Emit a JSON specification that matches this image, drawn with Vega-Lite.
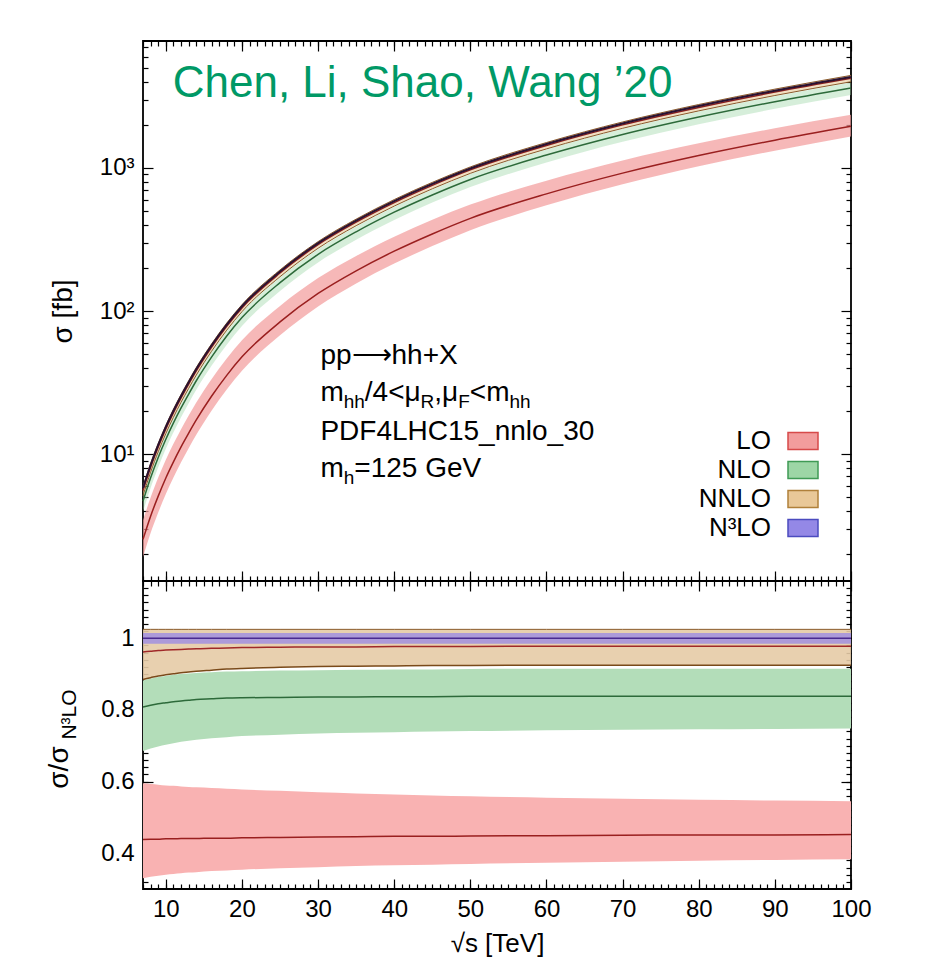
{
  "$schema": "https://vega.github.io/schema/vega-lite/v6.json",
  "background": "white",
  "padding": {"left": 44, "top": 39, "right": 5, "bottom": 5},
  "config": {
    "font": "Liberation Sans",
    "view": {"stroke": "black", "strokeWidth": 1.8},
    "axis": {"domain": false, "grid": false, "tickColor": "black", "tickWidth": 1.2, "labelColor": "black", "titleColor": "black", "labelFont": "Liberation Sans", "titleFont": "Liberation Sans", "labelFontSize": 24, "titleFontSize": 28, "titleFontWeight": "normal", "zindex": 1, "labelFlush": false, "labelOverlap": false, "labelBound": false},
    "text": {"font": "Liberation Sans", "color": "black"}
  },
  "datasets": {
    "xs": [
      {"s":7,"order":"LO","lo":1.91,"c":2.54,"hi":3.45,"rlo":0.33,"rc":0.438,"rhi":0.595},
      {"s":7,"order":"NLO","lo":3.97,"c":4.69,"hi":5.12,"rlo":0.685,"rc":0.808,"rhi":0.882},
      {"s":7,"order":"NNLO","lo":5.13,"c":5.58,"hi":5.95,"rlo":0.885,"rc":0.962,"rhi":1.025},
      {"s":7,"order":"N³LO","lo":5.71,"c":5.8,"hi":5.89,"rlo":0.985,"rc":1,"rhi":1.015},
      {"s":8,"order":"LO","lo":2.81,"c":3.69,"hi":4.98,"rlo":0.334,"rc":0.439,"rhi":0.593},
      {"s":8,"order":"NLO","lo":5.81,"c":6.83,"hi":7.46,"rlo":0.692,"rc":0.813,"rhi":0.888},
      {"s":8,"order":"NNLO","lo":7.48,"c":8.10,"hi":8.61,"rlo":0.89,"rc":0.964,"rhi":1.025},
      {"s":8,"order":"N³LO","lo":8.27,"c":8.4,"hi":8.53,"rlo":0.985,"rc":1,"rhi":1.015},
      {"s":9,"order":"LO","lo":3.91,"c":5.09,"hi":6.86,"rlo":0.337,"rc":0.439,"rhi":0.591},
      {"s":9,"order":"NLO","lo":8.10,"c":9.48,"hi":10.35,"rlo":0.698,"rc":0.817,"rhi":0.892},
      {"s":9,"order":"NNLO","lo":10.38,"c":11.21,"hi":11.89,"rlo":0.895,"rc":0.966,"rhi":1.025},
      {"s":9,"order":"N³LO","lo":11.43,"c":11.6,"hi":11.77,"rlo":0.985,"rc":1,"rhi":1.015},
      {"s":10,"order":"LO","lo":5.27,"c":6.82,"hi":9.13,"rlo":0.34,"rc":0.44,"rhi":0.589},
      {"s":10,"order":"NLO","lo":10.90,"c":12.71,"hi":13.87,"rlo":0.703,"rc":0.82,"rhi":0.895},
      {"s":10,"order":"NNLO","lo":13.92,"c":14.99,"hi":15.89,"rlo":0.898,"rc":0.967,"rhi":1.025},
      {"s":10,"order":"N³LO","lo":15.27,"c":15.5,"hi":15.73,"rlo":0.985,"rc":1,"rhi":1.015},
      {"s":11,"order":"LO","lo":6.87,"c":8.84,"hi":11.82,"rlo":0.342,"rc":0.44,"rhi":0.588},
      {"s":11,"order":"NLO","lo":14.21,"c":16.54,"hi":18.05,"rlo":0.707,"rc":0.823,"rhi":0.898},
      {"s":11,"order":"NNLO","lo":18.11,"c":19.46,"hi":20.60,"rlo":0.901,"rc":0.968,"rhi":1.025},
      {"s":11,"order":"N³LO","lo":19.80,"c":20.1,"hi":20.40,"rlo":0.985,"rc":1,"rhi":1.015},
      {"s":12,"order":"LO","lo":8.77,"c":11.25,"hi":14.94,"rlo":0.344,"rc":0.441,"rhi":0.586},
      {"s":12,"order":"NLO","lo":18.13,"c":21.04,"hi":22.95,"rlo":0.711,"rc":0.825,"rhi":0.90},
      {"s":12,"order":"NNLO","lo":23.05,"c":24.71,"hi":26.14,"rlo":0.904,"rc":0.969,"rhi":1.025},
      {"s":12,"order":"N³LO","lo":25.12,"c":25.5,"hi":25.88,"rlo":0.985,"rc":1,"rhi":1.015},
      {"s":13,"order":"LO","lo":11.00,"c":14.02,"hi":18.60,"rlo":0.346,"rc":0.441,"rhi":0.585},
      {"s":13,"order":"NLO","lo":22.71,"c":26.30,"hi":28.68,"rlo":0.714,"rc":0.827,"rhi":0.902},
      {"s":13,"order":"NNLO","lo":28.81,"c":30.85,"hi":32.60,"rlo":0.906,"rc":0.970,"rhi":1.025},
      {"s":13,"order":"N³LO","lo":31.32,"c":31.8,"hi":32.28,"rlo":0.985,"rc":1,"rhi":1.015},
      {"s":14,"order":"LO","lo":13.64,"c":17.33,"hi":22.95,"rlo":0.347,"rc":0.441,"rhi":0.584},
      {"s":14,"order":"NLO","lo":28.18,"c":32.58,"hi":35.49,"rlo":0.717,"rc":0.829,"rhi":0.903},
      {"s":14,"order":"NNLO","lo":35.68,"c":38.16,"hi":40.28,"rlo":0.908,"rc":0.971,"rhi":1.025},
      {"s":14,"order":"N³LO","lo":38.71,"c":39.3,"hi":39.89,"rlo":0.985,"rc":1,"rhi":1.015},
      {"s":16,"order":"LO","lo":20.09,"c":25.37,"hi":33.41,"rlo":0.35,"rc":0.442,"rhi":0.582},
      {"s":16,"order":"NLO","lo":41.39,"c":47.70,"hi":51.95,"rlo":0.721,"rc":0.831,"rhi":0.905},
      {"s":16,"order":"NNLO","lo":52.29,"c":55.79,"hi":58.84,"rlo":0.911,"rc":0.972,"rhi":1.025},
      {"s":16,"order":"N³LO","lo":56.54,"c":57.4,"hi":58.26,"rlo":0.985,"rc":1,"rhi":1.015},
      {"s":18,"order":"LO","lo":28.30,"c":35.54,"hi":46.63,"rlo":0.352,"rc":0.442,"rhi":0.58},
      {"s":18,"order":"NLO","lo":58.21,"c":66.97,"hi":72.92,"rlo":0.724,"rc":0.833,"rhi":0.907},
      {"s":18,"order":"NNLO","lo":73.49,"c":78.23,"hi":82.41,"rlo":0.914,"rc":0.973,"rhi":1.025},
      {"s":18,"order":"N³LO","lo":79.19,"c":80.4,"hi":81.61,"rlo":0.985,"rc":1,"rhi":1.015},
      {"s":20,"order":"LO","lo":38.23,"c":47.84,"hi":62.42,"rlo":0.354,"rc":0.443,"rhi":0.578},
      {"s":20,"order":"NLO","lo":78.52,"c":90.07,"hi":98.06,"rlo":0.727,"rc":0.834,"rhi":0.908},
      {"s":20,"order":"NNLO","lo":98.93,"c":105.2,"hi":110.7,"rlo":0.916,"rc":0.974,"rhi":1.025},
      {"s":20,"order":"N³LO","lo":106.4,"c":108,"hi":109.6,"rlo":0.985,"rc":1,"rhi":1.015},
      {"s":25,"order":"LO","lo":67.66,"c":83.92,"hi":108.5,"rlo":0.358,"rc":0.444,"rhi":0.574},
      {"s":25,"order":"NLO","lo":138.2,"c":157.8,"hi":172.0,"rlo":0.731,"rc":0.835,"rhi":0.91},
      {"s":25,"order":"NNLO","lo":173.7,"c":184.3,"hi":193.7,"rlo":0.919,"rc":0.975,"rhi":1.025},
      {"s":25,"order":"N³LO","lo":186.2,"c":189,"hi":191.8,"rlo":0.985,"rc":1,"rhi":1.015},
      {"s":30,"order":"LO","lo":107.6,"c":132.6,"hi":169.9,"rlo":0.361,"rc":0.445,"rhi":0.57},
      {"s":30,"order":"NLO","lo":218.7,"c":249.1,"hi":271.5,"rlo":0.734,"rc":0.836,"rhi":0.911},
      {"s":30,"order":"NNLO","lo":274.5,"c":290.8,"hi":305.5,"rlo":0.921,"rc":0.976,"rhi":1.025},
      {"s":30,"order":"N³LO","lo":293.5,"c":298,"hi":302.5,"rlo":0.985,"rc":1,"rhi":1.015},
      {"s":35,"order":"LO","lo":155.8,"c":190.9,"hi":242.7,"rlo":0.364,"rc":0.446,"rhi":0.567},
      {"s":35,"order":"NLO","lo":315.0,"c":357.8,"hi":390.3,"rlo":0.736,"rc":0.836,"rhi":0.912},
      {"s":35,"order":"NNLO","lo":394.6,"c":417.7,"hi":438.7,"rlo":0.922,"rc":0.976,"rhi":1.025},
      {"s":35,"order":"N³LO","lo":421.6,"c":428,"hi":434.4,"rlo":0.985,"rc":1,"rhi":1.015},
      {"s":40,"order":"LO","lo":214.5,"c":261.9,"hi":330.5,"rlo":0.366,"rc":0.447,"rhi":0.564},
      {"s":40,"order":"NLO","lo":432.5,"c":490.5,"hi":535.0,"rlo":0.738,"rc":0.837,"rhi":0.913},
      {"s":40,"order":"NNLO","lo":540.9,"c":572.5,"hi":600.7,"rlo":0.923,"rc":0.977,"rhi":1.025},
      {"s":40,"order":"N³LO","lo":577.2,"c":586,"hi":594.8,"rlo":0.985,"rc":1,"rhi":1.015},
      {"s":45,"order":"LO","lo":284.5,"c":345.5,"hi":433.7,"rlo":0.368,"rc":0.447,"rhi":0.561},
      {"s":45,"order":"NLO","lo":572.0,"c":647.0,"hi":705.7,"rlo":0.74,"rc":0.837,"rhi":0.913},
      {"s":45,"order":"NNLO","lo":714.3,"c":755.2,"hi":792.3,"rlo":0.924,"rc":0.977,"rhi":1.025},
      {"s":45,"order":"N³LO","lo":761.4,"c":773,"hi":784.6,"rlo":0.985,"rc":1,"rhi":1.015},
      {"s":50,"order":"LO","lo":366.7,"c":444.0,"hi":554.0,"rlo":0.37,"rc":0.448,"rhi":0.559},
      {"s":50,"order":"NLO","lo":734.3,"c":830.5,"hi":905.8,"rlo":0.741,"rc":0.838,"rhi":0.914},
      {"s":50,"order":"NNLO","lo":915.7,"c":968.2,"hi":1015.8,"rlo":0.924,"rc":0.977,"rhi":1.025},
      {"s":50,"order":"N³LO","lo":976.1,"c":991,"hi":1005.9,"rlo":0.985,"rc":1,"rhi":1.015},
      {"s":60,"order":"LO","lo":547.2,"c":658.7,"hi":814.2,"rlo":0.373,"rc":0.449,"rhi":0.555},
      {"s":60,"order":"NLO","lo":1090,"c":1229,"hi":1342,"rlo":0.743,"rc":0.838,"rhi":0.915},
      {"s":60,"order":"NNLO","lo":1357,"c":1435,"hi":1504,"rlo":0.925,"rc":0.978,"rhi":1.025},
      {"s":60,"order":"N³LO","lo":1445,"c":1467,"hi":1489,"rlo":0.985,"rc":1,"rhi":1.015},
      {"s":70,"order":"LO","lo":768.2,"c":919.4,"hi":1128,"rlo":0.376,"rc":0.45,"rhi":0.552},
      {"s":70,"order":"NLO","lo":1522,"c":1712,"hi":1869,"rlo":0.745,"rc":0.838,"rhi":0.915},
      {"s":70,"order":"NNLO","lo":1890,"c":1998,"hi":2094,"rlo":0.925,"rc":0.978,"rhi":1.025},
      {"s":70,"order":"N³LO","lo":2012,"c":2043,"hi":2074,"rlo":0.985,"rc":1,"rhi":1.015},
      {"s":80,"order":"LO","lo":1025,"c":1220,"hi":1485,"rlo":0.379,"rc":0.451,"rhi":0.549},
      {"s":80,"order":"NLO","lo":2018,"c":2267,"hi":2475,"rlo":0.746,"rc":0.838,"rhi":0.915},
      {"s":80,"order":"NNLO","lo":2502,"c":2645,"hi":2773,"rlo":0.925,"rc":0.978,"rhi":1.025},
      {"s":80,"order":"N³LO","lo":2664,"c":2705,"hi":2746,"rlo":0.985,"rc":1,"rhi":1.015},
      {"s":90,"order":"LO","lo":1319,"c":1562,"hi":1894,"rlo":0.381,"rc":0.451,"rhi":0.547},
      {"s":90,"order":"NLO","lo":2587,"c":2902,"hi":3169,"rlo":0.747,"rc":0.838,"rhi":0.915},
      {"s":90,"order":"NNLO","lo":3203,"c":3387,"hi":3550,"rlo":0.925,"rc":0.978,"rhi":1.025},
      {"s":90,"order":"N³LO","lo":3411,"c":3463,"hi":3515,"rlo":0.985,"rc":1,"rhi":1.015},
      {"s":100,"order":"LO","lo":1655,"c":1953,"hi":2355,"rlo":0.383,"rc":0.452,"rhi":0.545},
      {"s":100,"order":"NLO","lo":3232,"c":3621,"hi":3954,"rlo":0.748,"rc":0.838,"rhi":0.915},
      {"s":100,"order":"NNLO","lo":3997,"c":4226,"hi":4429,"rlo":0.925,"rc":0.978,"rhi":1.025},
      {"s":100,"order":"N³LO","lo":4256,"c":4321,"hi":4386,"rlo":0.985,"rc":1,"rhi":1.015}
    ]
  },
  "spacing": 0,
  "bounds": "flush",
  "resolve": {"scale": {"fill": "independent"}, "legend": {"fill": "independent"}},
  "vconcat": [
    {
      "width": 708,
      "height": 540,
      "data": {"name": "xs"},
      "resolve": {"axis": {"x": "independent", "y": "independent"}},
      "layer": [
        {
          "transform": [{"filter": "datum.order === 'LO'"}],
          "mark": {"type": "area", "fillOpacity": 0.72, "interpolate": "monotone"},
          "encoding": {
            "x": {"field": "s", "type": "quantitative", "scale": {"domain": [7, 100], "nice": false, "zero": false},
              "axis": {"orient": "bottom", "values": [10,20,30,40,50,60,70,80,90,100], "labels": false, "tickSize": -10, "title": null}},
            "y": {"field": "lo", "type": "quantitative", "scale": {"type": "log", "domain": [1.3, 7700], "nice": false},
              "axis": {"orient": "left", "values": [10, 100, 1000], "tickSize": -10, "labelPadding": 19,
                "labelExpr": "datum.value == 10 ? '10¹' : datum.value == 100 ? '10²' : '10³'",
                "title": "σ  [fb]", "titleX": -80, "titleY": 270, "titleAngle": -90, "titleBaseline": "middle", "titleAlign": "center"}},
            "y2": {"field": "hi"},
            "fill": {"field": "order", "type": "nominal",
              "scale": {"domain": ["LO", "NLO", "NNLO", "N³LO"], "range": ["#f29d9d", "#9dd6a6", "#e9c898", "#9488e6"]},
              "legend": {"orient": "bottom-right", "offset": 30, "title": " ", "titleOrient": "bottom", "titleFontSize": 8, "titlePadding": 2,
                "labelFontSize": 26, "labelFont": "Liberation Sans", "labelColor": "black", "labelAlign": "right", "labelOffset": -48, "labelLimit": 300,
                "symbolType": "M-1,-0.57H1V0.57H-1Z", "symbolSize": 900, "rowPadding": 0, "padding": 0,
                "encode": {"symbols": {"update": {
                  "fill": {"signal": "datum.value === 'LO' ? '#f4a4a4' : datum.value === 'NLO' ? '#a6dbae' : datum.value === 'NNLO' ? '#ecd0a8' : '#9a96ee'"},
                  "stroke": {"signal": "datum.value === 'LO' ? '#d64a4a' : datum.value === 'NLO' ? '#3f9a55' : datum.value === 'NNLO' ? '#b0803a' : '#4b4bbf'"},
                  "strokeWidth": {"value": 1.5}, "fillOpacity": {"value": 1}, "opacity": {"value": 1}}}}}}
          }
        },
        {
          "transform": [{"filter": "datum.order === 'NLO'"}],
          "mark": {"type": "area", "fillOpacity": 0.42, "interpolate": "monotone"},
          "encoding": {
            "x": {"field": "s", "type": "quantitative", "axis": {"orient": "top", "values": [10,20,30,40,50,60,70,80,90,100], "labels": false, "tickSize": -10, "title": null}},
            "y": {"field": "lo", "type": "quantitative", "axis": {"orient": "right", "values": [10, 100, 1000], "labels": false, "tickSize": -10, "title": null}},
            "y2": {"field": "hi"},
            "fill": {"field": "order", "type": "nominal"}
          }
        },
        {
          "transform": [{"filter": "datum.order === 'NNLO'"}],
          "mark": {"type": "area", "fillOpacity": 0.6, "interpolate": "monotone"},
          "encoding": {
            "x": {"field": "s", "type": "quantitative", "axis": {"orient": "bottom", "values": [7,8,9,10,11,12,13,14,15,16,17,18,19,20,21,22,23,24,25,26,27,28,29,30,31,32,33,34,35,36,37,38,39,40,41,42,43,44,45,46,47,48,49,50,51,52,53,54,55,56,57,58,59,60,61,62,63,64,65,66,67,68,69,70,71,72,73,74,75,76,77,78,79,80,81,82,83,84,85,86,87,88,89,90,91,92,93,94,95,96,97,98,99], "labels": false, "tickSize": -5, "title": null}},
            "y": {"field": "lo", "type": "quantitative", "axis": {"orient": "left", "values": [2,3,4,5,6,7,8,9,20,30,40,50,60,70,80,90,200,300,400,500,600,700,800,900,2000,3000,4000,5000,6000,7000], "labels": false, "tickSize": -5, "title": null}},
            "y2": {"field": "hi"},
            "fill": {"field": "order", "type": "nominal"}
          }
        },
        {
          "transform": [{"filter": "datum.order === 'N³LO'"}],
          "mark": {"type": "area", "fillOpacity": 0.55, "interpolate": "monotone"},
          "encoding": {
            "x": {"field": "s", "type": "quantitative", "axis": {"orient": "top", "values": [7,8,9,10,11,12,13,14,15,16,17,18,19,20,21,22,23,24,25,26,27,28,29,30,31,32,33,34,35,36,37,38,39,40,41,42,43,44,45,46,47,48,49,50,51,52,53,54,55,56,57,58,59,60,61,62,63,64,65,66,67,68,69,70,71,72,73,74,75,76,77,78,79,80,81,82,83,84,85,86,87,88,89,90,91,92,93,94,95,96,97,98,99], "labels": false, "tickSize": -5, "title": null}},
            "y": {"field": "lo", "type": "quantitative", "axis": {"orient": "right", "values": [2,3,4,5,6,7,8,9,20,30,40,50,60,70,80,90,200,300,400,500,600,700,800,900,2000,3000,4000,5000,6000,7000], "labels": false, "tickSize": -5, "title": null}},
            "y2": {"field": "hi"},
            "fill": {"field": "order", "type": "nominal"}
          }
        },
        {
          "transform": [{"filter": "datum.order === 'LO'"}],
          "mark": {"type": "line", "color": "#9a1f1f", "strokeWidth": 1.5, "interpolate": "monotone"},
          "encoding": {"x": {"field": "s", "type": "quantitative", "axis": null}, "y": {"field": "c", "type": "quantitative", "axis": null}}
        },
        {
          "transform": [{"filter": "datum.order === 'NLO'"}],
          "mark": {"type": "line", "color": "#2d6a3a", "strokeWidth": 1.5, "interpolate": "monotone"},
          "encoding": {"x": {"field": "s", "type": "quantitative", "axis": null}, "y": {"field": "c", "type": "quantitative", "axis": null}}
        },
        {
          "transform": [{"filter": "datum.order === 'NNLO'"}],
          "mark": {"type": "line", "color": "#8a5a2a", "strokeWidth": 1, "interpolate": "monotone"},
          "encoding": {"x": {"field": "s", "type": "quantitative", "axis": null}, "y": {"field": "lo", "type": "quantitative", "axis": null}}
        },
        {
          "transform": [{"filter": "datum.order === 'NNLO'"}],
          "mark": {"type": "line", "color": "#8a5a2a", "strokeWidth": 1, "interpolate": "monotone"},
          "encoding": {"x": {"field": "s", "type": "quantitative", "axis": null}, "y": {"field": "hi", "type": "quantitative", "axis": null}}
        },
        {
          "transform": [{"filter": "datum.order === 'NNLO'"}],
          "mark": {"type": "line", "color": "#8a1f1f", "strokeWidth": 1.5, "interpolate": "monotone"},
          "encoding": {"x": {"field": "s", "type": "quantitative", "axis": null}, "y": {"field": "c", "type": "quantitative", "axis": null}}
        },
        {
          "transform": [{"filter": "datum.order === 'N³LO'"}],
          "mark": {"type": "line", "color": "#2a1230", "strokeWidth": 2, "interpolate": "monotone"},
          "encoding": {"x": {"field": "s", "type": "quantitative", "axis": null}, "y": {"field": "c", "type": "quantitative", "axis": null}}
        },
        {
          "data": {"values": [{}]},
          "mark": {"type": "text", "text": "Chen, Li, Shao, Wang ’20", "align": "left", "baseline": "alphabetic", "fontSize": 44, "color": "#009966"},
          "encoding": {"x": {"datum": 10.9, "type": "quantitative", "axis": null}, "y": {"datum": 3130, "type": "quantitative", "axis": null}}
        },
        {
          "data": {"values": [{}]},
          "mark": {"type": "text", "text": "pp⟶hh+X", "align": "left", "baseline": "alphabetic", "fontSize": 28},
          "encoding": {"x": {"datum": 30.3, "type": "quantitative", "axis": null}, "y": {"datum": 42.7, "type": "quantitative", "axis": null}}
        },
        {
          "data": {"values": [{}]},
          "encoding": {"x": {"datum": 30.3, "type": "quantitative", "axis": null}, "y": {"datum": 23.5, "type": "quantitative", "axis": null}},
          "layer": [
            {"mark": {"type": "text", "text": "m", "align": "left", "baseline": "alphabetic", "fontSize": 28}},
            {"mark": {"type": "text", "text": "hh", "align": "left", "baseline": "alphabetic", "fontSize": 19, "dx": 23.3, "dy": 7}},
            {"mark": {"type": "text", "text": "/4<μ", "align": "left", "baseline": "alphabetic", "fontSize": 28, "dx": 44.4}},
            {"mark": {"type": "text", "text": "R", "align": "left", "baseline": "alphabetic", "fontSize": 19, "dx": 100.2, "dy": 7}},
            {"mark": {"type": "text", "text": ",μ", "align": "left", "baseline": "alphabetic", "fontSize": 28, "dx": 113.9}},
            {"mark": {"type": "text", "text": "F", "align": "left", "baseline": "alphabetic", "fontSize": 19, "dx": 137.8, "dy": 7}},
            {"mark": {"type": "text", "text": "<m", "align": "left", "baseline": "alphabetic", "fontSize": 28, "dx": 149.4}},
            {"mark": {"type": "text", "text": "hh", "align": "left", "baseline": "alphabetic", "fontSize": 19, "dx": 189.1, "dy": 7}}
          ]
        },
        {
          "data": {"values": [{}]},
          "mark": {"type": "text", "text": "PDF4LHC15_nnlo_30", "align": "left", "baseline": "alphabetic", "fontSize": 28},
          "encoding": {"x": {"datum": 30.3, "type": "quantitative", "axis": null}, "y": {"datum": 12.55, "type": "quantitative", "axis": null}}
        },
        {
          "data": {"values": [{}]},
          "encoding": {"x": {"datum": 30.3, "type": "quantitative", "axis": null}, "y": {"datum": 6.93, "type": "quantitative", "axis": null}},
          "layer": [
            {"mark": {"type": "text", "text": "m", "align": "left", "baseline": "alphabetic", "fontSize": 28}},
            {"mark": {"type": "text", "text": "h", "align": "left", "baseline": "alphabetic", "fontSize": 19, "dx": 23.3, "dy": 7}},
            {"mark": {"type": "text", "text": "=125 GeV", "align": "left", "baseline": "alphabetic", "fontSize": 28, "dx": 33.9}}
          ]
        }
      ]
    },
    {
      "width": 708,
      "height": 308,
      "data": {"name": "xs"},
      "resolve": {"axis": {"x": "independent", "y": "independent"}},
      "layer": [
        {
          "transform": [{"filter": "datum.order === 'LO'"}],
          "mark": {"type": "area", "fill": "#f9b2b2", "interpolate": "monotone"},
          "encoding": {
            "x": {"field": "s", "type": "quantitative", "scale": {"domain": [7, 100], "nice": false, "zero": false},
              "axis": {"orient": "bottom", "values": [10,20,30,40,50,60,70,80,90,100], "tickSize": -10, "labelPadding": 18, "format": "d",
                "title": "√s [TeV]", "titleFontSize": 26, "titleY": 54, "titleBaseline": "middle"}},
            "y": {"field": "rlo", "type": "quantitative", "scale": {"domain": [0.3, 1.16], "nice": false, "zero": false},
              "axis": {"orient": "left", "values": [0.4, 0.6, 0.8, 1], "tickSize": -10, "labelPadding": 19, "format": "~g",
                "title": "σ/σ", "titleX": -84, "titleY": 186, "titleAngle": -90, "titleBaseline": "middle", "titleAlign": "center"}},
            "y2": {"field": "rhi"}
          }
        },
        {
          "transform": [{"filter": "datum.order === 'NLO'"}],
          "mark": {"type": "area", "fill": "#b3ddb9", "interpolate": "monotone"},
          "encoding": {
            "x": {"field": "s", "type": "quantitative", "axis": {"orient": "top", "values": [10,20,30,40,50,60,70,80,90,100], "labels": false, "tickSize": -10, "title": null}},
            "y": {"field": "rlo", "type": "quantitative", "axis": {"orient": "right", "values": [0.4, 0.6, 0.8, 1], "labels": false, "tickSize": -10, "title": null}},
            "y2": {"field": "rhi"}
          }
        },
        {
          "transform": [{"filter": "datum.order === 'NNLO'"}],
          "mark": {"type": "area", "fill": "#e6cba6", "fillOpacity": 0.9, "interpolate": "monotone"},
          "encoding": {
            "x": {"field": "s", "type": "quantitative", "axis": {"orient": "bottom", "values": [7,8,9,10,11,12,13,14,15,16,17,18,19,20,21,22,23,24,25,26,27,28,29,30,31,32,33,34,35,36,37,38,39,40,41,42,43,44,45,46,47,48,49,50,51,52,53,54,55,56,57,58,59,60,61,62,63,64,65,66,67,68,69,70,71,72,73,74,75,76,77,78,79,80,81,82,83,84,85,86,87,88,89,90,91,92,93,94,95,96,97,98,99], "labels": false, "tickSize": -5, "title": null}},
            "y": {"field": "rlo", "type": "quantitative", "axis": {"orient": "left", "values": [0.32,0.34,0.36,0.38,0.4,0.42,0.44,0.46,0.48,0.5,0.52,0.54,0.56,0.58,0.6,0.62,0.64,0.66,0.68,0.7,0.72,0.74,0.76,0.78,0.8,0.82,0.84,0.86,0.88,0.9,0.92,0.94,0.96,0.98,1,1.02,1.04,1.06,1.08,1.1,1.12,1.14], "labels": false, "tickSize": -5,
              "title": "N³LO", "titleFontSize": 21, "titleX": -74, "titleY": 133, "titleAngle": -90, "titleBaseline": "middle", "titleAlign": "center"}},
            "y2": {"field": "rhi"}
          }
        },
        {
          "transform": [{"filter": "datum.order === 'N³LO'"}],
          "mark": {"type": "area", "fill": "#9c8ce4", "fillOpacity": 0.8, "interpolate": "monotone"},
          "encoding": {
            "x": {"field": "s", "type": "quantitative", "axis": {"orient": "top", "values": [7,8,9,10,11,12,13,14,15,16,17,18,19,20,21,22,23,24,25,26,27,28,29,30,31,32,33,34,35,36,37,38,39,40,41,42,43,44,45,46,47,48,49,50,51,52,53,54,55,56,57,58,59,60,61,62,63,64,65,66,67,68,69,70,71,72,73,74,75,76,77,78,79,80,81,82,83,84,85,86,87,88,89,90,91,92,93,94,95,96,97,98,99], "labels": false, "tickSize": -5, "title": null}},
            "y": {"field": "rlo", "type": "quantitative", "axis": {"orient": "right", "values": [0.32,0.34,0.36,0.38,0.4,0.42,0.44,0.46,0.48,0.5,0.52,0.54,0.56,0.58,0.6,0.62,0.64,0.66,0.68,0.7,0.72,0.74,0.76,0.78,0.8,0.82,0.84,0.86,0.88,0.9,0.92,0.94,0.96,0.98,1,1.02,1.04,1.06,1.08,1.1,1.12,1.14], "labels": false, "tickSize": -5, "title": null}},
            "y2": {"field": "rhi"}
          }
        },
        {
          "transform": [{"filter": "datum.order === 'LO'"}],
          "mark": {"type": "line", "color": "#9a1f1f", "strokeWidth": 1.5, "interpolate": "monotone"},
          "encoding": {"x": {"field": "s", "type": "quantitative", "axis": null}, "y": {"field": "rc", "type": "quantitative", "axis": null}}
        },
        {
          "transform": [{"filter": "datum.order === 'NLO'"}],
          "mark": {"type": "line", "color": "#2d6a3a", "strokeWidth": 1.5, "interpolate": "monotone"},
          "encoding": {"x": {"field": "s", "type": "quantitative", "axis": null}, "y": {"field": "rc", "type": "quantitative", "axis": null}}
        },
        {
          "transform": [{"filter": "datum.order === 'NNLO'"}],
          "mark": {"type": "line", "color": "#7a4a1a", "strokeWidth": 1.5, "interpolate": "monotone"},
          "encoding": {"x": {"field": "s", "type": "quantitative", "axis": null}, "y": {"field": "rlo", "type": "quantitative", "axis": null}}
        },
        {
          "transform": [{"filter": "datum.order === 'NNLO'"}],
          "mark": {"type": "line", "color": "#8a5a2a", "strokeWidth": 1, "interpolate": "monotone"},
          "encoding": {"x": {"field": "s", "type": "quantitative", "axis": null}, "y": {"field": "rhi", "type": "quantitative", "axis": null}}
        },
        {
          "transform": [{"filter": "datum.order === 'NNLO'"}],
          "mark": {"type": "line", "color": "#a02828", "strokeWidth": 1.5, "interpolate": "monotone"},
          "encoding": {"x": {"field": "s", "type": "quantitative", "axis": null}, "y": {"field": "rc", "type": "quantitative", "axis": null}}
        },
        {
          "transform": [{"filter": "datum.order === 'N³LO'"}],
          "mark": {"type": "line", "color": "#4a2a90", "strokeWidth": 1.5, "interpolate": "monotone"},
          "encoding": {"x": {"field": "s", "type": "quantitative", "axis": null}, "y": {"field": "rc", "type": "quantitative", "axis": null}}
        }
      ]
    }
  ]
}
